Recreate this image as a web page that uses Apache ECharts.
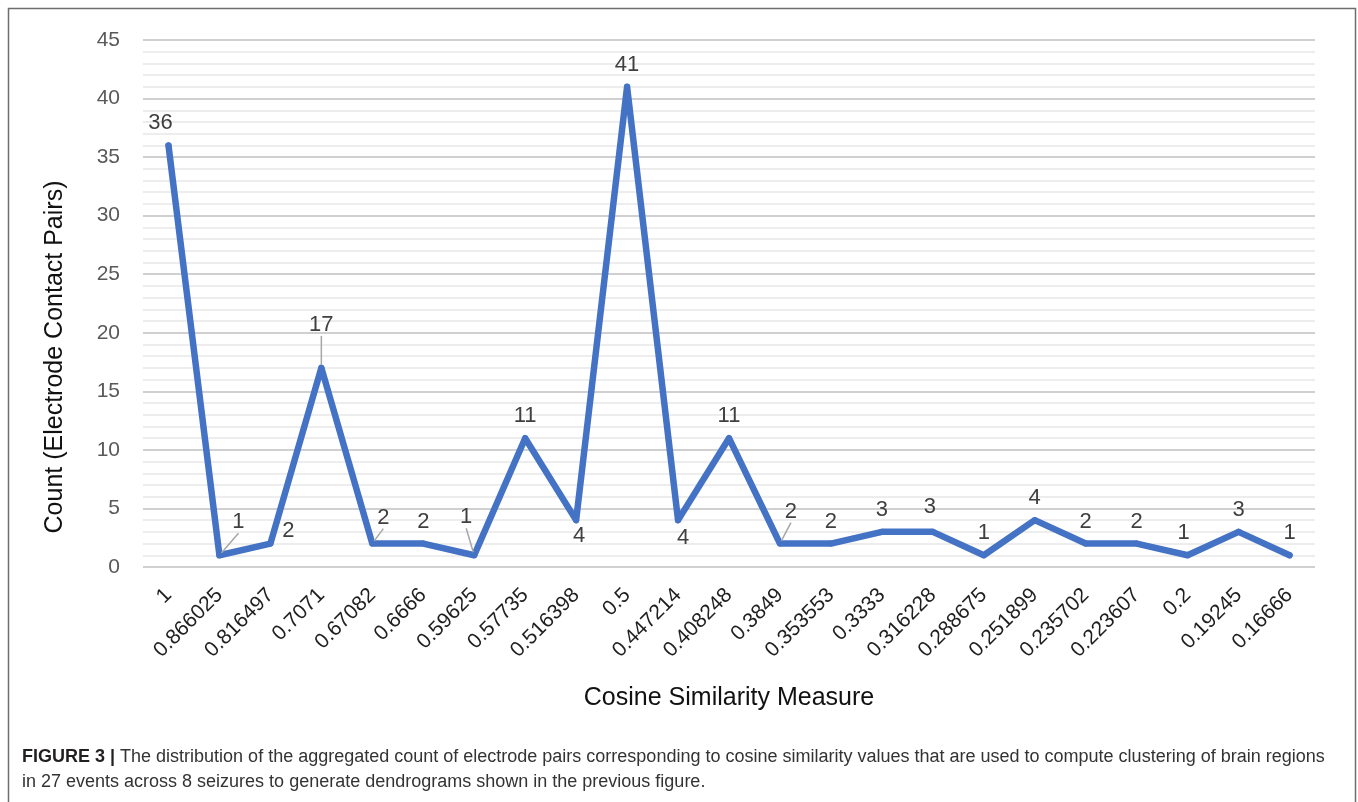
<!DOCTYPE html>
<html>
<head>
<meta charset="utf-8">
<title>Cosine Similarity Distribution</title>
<script src="https://cdn.jsdelivr.net/npm/echarts@6/dist/echarts.min.js"></script>
<style>
  html, body { margin: 0; padding: 0; background: #ffffff; }
  #chart { width: 1358px; height: 802px; }
</style>
</head>
<body>
<div id="chart"></div>
<script>
// Cosine similarity values (category axis) and aggregated electrode-pair counts
const categories = [
  '1', '0.866025', '0.816497', '0.7071', '0.67082', '0.6666', '0.59625',
  '0.57735', '0.516398', '0.5', '0.447214', '0.408248', '0.3849', '0.353553',
  '0.3333', '0.316228', '0.288675', '0.251899', '0.235702', '0.223607',
  '0.2', '0.19245', '0.16666'
];
const counts = [36, 1, 2, 17, 2, 2, 1, 11, 4, 41, 4, 11, 2, 2, 3, 3, 1, 4, 2, 2, 1, 3, 1];
const yTicks = { min: 0, max: 45, interval: 5 };

// Label nudges (pixels) away from the default "above" placement; some carry a leader line
const labelNudges = {
  0: { dx: -8, dy: 0 },
  1: { dx: 19, dy: -11, leader: true },
  2: { dx: 18, dy: 9 },
  3: { dx: 0, dy: -21, leader: true },
  4: { dx: 11, dy: -4, leader: true },
  6: { dx: -8, dy: -16, leader: true },
  8: { dx: 3, dy: 38 },
  10: { dx: 5, dy: 40 },
  12: { dx: 11, dy: -10, leader: true },
  15: { dx: -3, dy: -3 },
  20: { dx: -4, dy: 0 }
};

const seriesData = counts.map(function (v, i) {
  const n = labelNudges[i];
  const item = { value: v };
  if (n && n.leader) {
    item.labelLine = { show: true };
  }
  return item;
});

const chart = echarts.init(document.getElementById('chart'), null, { renderer: 'canvas' });

const FONT = 'Liberation Sans, Arial, Helvetica, sans-serif';

chart.setOption({
  backgroundColor: '#ffffff',
  animation: false,
  grid: { left: 143, right: 43, top: 40, bottom: 235, containLabel: false },
  xAxis: {
    type: 'category',
    data: categories,
    boundaryGap: true,
    axisLine: { show: false },
    axisTick: { show: false },
    axisLabel: {
      rotate: 45,
      margin: 25,
      interval: 0,
      color: '#1f1f1f',
      fontFamily: FONT,
      fontSize: 21
    },
    name: 'Cosine Similarity Measure',
    nameLocation: 'middle',
    nameGap: 119,
    nameTextStyle: { color: '#111111', fontFamily: FONT, fontSize: 25 }
  },
  yAxis: {
    type: 'value',
    min: yTicks.min,
    max: yTicks.max,
    interval: yTicks.interval,
    axisLine: { show: false },
    axisTick: { show: false },
    axisLabel: { margin: 23, color: '#595959', fontFamily: FONT, fontSize: 21 },
    splitLine: { show: true, lineStyle: { color: '#d0d0d0', width: 2 } },
    minorTick: { show: false, splitNumber: 5 },
    minorSplitLine: { show: true, lineStyle: { color: '#e8e8e8', width: 1.5 } }
  },
  series: [{
    type: 'line',
    data: seriesData,
    symbol: 'circle',
    symbolSize: 6,
    showSymbol: true,
    itemStyle: { color: '#4472C4' },
    lineStyle: { color: '#4472C4', width: 6.5, cap: 'round', join: 'round' },
    label: {
      show: true,
      position: 'top',
      distance: 8,
      color: '#404040',
      fontFamily: FONT,
      fontSize: 22
    },
    labelLine: {
      show: false,
      lineStyle: { color: '#a6a6a6', width: 1.5 }
    },
    labelLayout: function (params) {
      const n = labelNudges[params.dataIndex];
      return n ? { dx: n.dx, dy: n.dy } : {};
    },
    z: 3
  }],
  graphic: [
    {
      type: 'rect',
      silent: true,
      shape: { x: 8.5, y: 8.5, width: 1347, height: 800 },
      style: { fill: 'none', stroke: '#6e6e6e', lineWidth: 1.5 }
    },
    {
      type: 'text',
      silent: true,
      x: 55,
      y: 357,
      rotation: Math.PI / 2,
      style: {
        text: 'Count (Electrode Contact Pairs)',
        fill: '#111111',
        font: '25px ' + FONT,
        textAlign: 'center',
        textVerticalAlign: 'middle'
      }
    },
    {
      type: 'text',
      silent: true,
      x: 22,
      y: 757,
      style: {
        rich: {
          b: { font: 'bold 18px ' + FONT, fill: '#231f20' },
          r: { font: '18px ' + FONT, fill: '#333333' }
        },
        text: '{b|FIGURE 3 |}{r| The distribution of the aggregated count of electrode pairs corresponding to cosine similarity values that are used to compute clustering of brain regions}',
        textVerticalAlign: 'middle'
      }
    },
    {
      type: 'text',
      silent: true,
      x: 22,
      y: 782,
      style: {
        text: 'in 27 events across 8 seizures to generate dendrograms shown in the previous figure.',
        font: '18px ' + FONT,
        fill: '#333333',
        textVerticalAlign: 'middle'
      }
    }
  ]
});
</script>
</body>
</html>
